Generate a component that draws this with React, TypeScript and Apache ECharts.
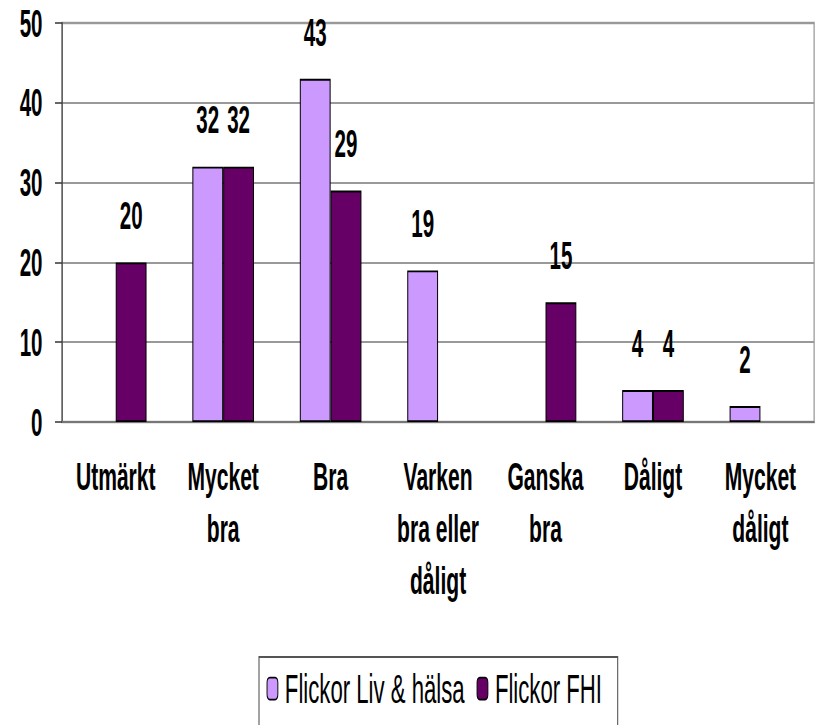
import React, { useEffect, useRef } from "react";
import * as echarts from "echarts";

const categories = [
  "Utmärkt",
  "Mycket\nbra",
  "Bra",
  "Varken\nbra eller\ndåligt",
  "Ganska\nbra",
  "Dåligt",
  "Mycket\ndåligt",
];
const seriesNames = ["Flickor Liv & hälsa", "Flickor FHI"];
const livHalsa = [null, 32, 43, 19, null, 4, 2];
const fhi = [20, 32, 29, null, 15, 4, null];
const colors = ["#CC99FF", "#660066"];

const K = 1.85; // horizontal compression of the original picture
const W = 815;
const H = 725;

export default function App() {
  const ref = useRef<HTMLDivElement>(null);
  useEffect(() => {
    if (!ref.current) return;
    const chart = echarts.init(ref.current, null, { renderer: "svg" });
    const font = "'Liberation Sans', Arial, sans-serif";
    const label = {
      show: true,
      position: "top",
      distance: 28,
      fontFamily: font,
      fontSize: 38,
      fontWeight: "bold",
      color: "#000",
    };
    chart.setOption({
      animation: false,
      grid: {
        left: 62 * K,
        right: (W - 814) * K,
        top: 23,
        bottom: H - 422,
        show: true,
        borderColor: "#a0a0a0",
        borderWidth: 2.5,
        backgroundColor: "transparent",
      },
      legend: {
        data: seriesNames,
        left: 259 * K,
        top: 657,
        padding: [11, 29, 20, 14],
        borderColor: "#555",
        borderWidth: 2,
        itemWidth: 20,
        itemHeight: 22,
        itemGap: 22,
        icon: "roundRect",
        itemStyle: { borderColor: "#000", borderWidth: 1.75 },
        textStyle: { fontFamily: font, fontSize: 41, color: "#000", padding: [0, 0, 0, 8] },
      },
      xAxis: {
        type: "category",
        data: categories,
        axisLine: { show: true, lineStyle: { color: "#777", width: 2 } },
        axisTick: { show: false },
        axisLabel: {
          interval: 0,
          margin: 29,
          fontFamily: font,
          fontSize: 39,
          fontWeight: "bold",
          lineHeight: 52,
          color: "#000",
        },
      },
      yAxis: {
        type: "value",
        min: 0,
        max: 50,
        interval: 10,
        axisLine: { show: true, lineStyle: { color: "#333", width: 1.85 } },
        axisTick: { show: true, length: 13, lineStyle: { color: "#333", width: 1.5 } },
        splitLine: { show: true, lineStyle: { color: "#999", width: 2 } },
        axisLabel: {
          margin: 36,
          fontFamily: font,
          fontSize: 38,
          fontWeight: "bold",
          color: "#000",
        },
      },
      series: [
        {
          name: seriesNames[0],
          type: "bar",
          data: livHalsa,
          barWidth: 57,
          barGap: "0%",
          itemStyle: { color: colors[0], borderColor: "#000", borderWidth: 1.85 },
          label,
        },
        {
          name: seriesNames[1],
          type: "bar",
          data: fhi,
          barWidth: 57,
          barGap: "0%",
          itemStyle: { color: colors[1], borderColor: "#000", borderWidth: 1.85 },
          label,
        },
      ],
    });
    return () => chart.dispose();
  }, []);
  return (
    <div
      style={{
        position: "fixed",
        left: 0,
        top: 0,
        width: W,
        height: H,
        overflow: "hidden",
        background: "#fff",
      }}
    >
      <div
        ref={ref}
        style={{
          width: Math.round(W * K),
          height: H,
          transform: `scaleX(${1 / K})`,
          transformOrigin: "0 0",
        }}
      />
    </div>
  );
}
